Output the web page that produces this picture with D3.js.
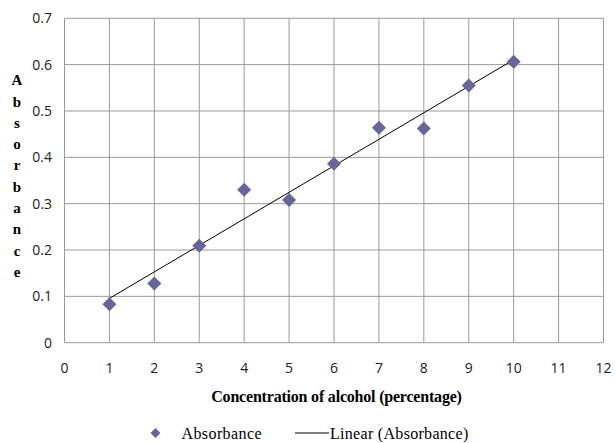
<!DOCTYPE html>
<html>
<head>
<meta charset="utf-8">
<script src="https://cdn.jsdelivr.net/npm/d3@7"></script>
<style>
body { margin: 0; background: #fff; }
</style>
</head>
<body>
<div id="chart"></div>
<script>
// data
var concentration = [1, 2, 3, 4, 5, 6, 7, 8, 9, 10];
var absorbance = [0.083, 0.128, 0.209, 0.330, 0.308, 0.386, 0.464, 0.462, 0.555, 0.606];
var xTicks = [0, 1, 2, 3, 4, 5, 6, 7, 8, 9, 10, 11, 12];
var yTicks = [0, 0.1, 0.2, 0.3, 0.4, 0.5, 0.6, 0.7];
var yTitle = "Absorbance";
var xTitle = "Concentration of alcohol (percentage)";

var width = 615, height = 443;
var margin = {left: 64.5, right: 11.5, top: 18.3, bottom: 100.3};
var w = width - margin.left - margin.right;
var h = height - margin.top - margin.bottom;

var svg = d3.select("#chart").append("svg")
	.attr("width", width)
	.attr("height", height);

var xScale = d3.scaleLinear().domain([0, 12]).range([margin.left, margin.left + w]);
var yScale = d3.scaleLinear().domain([0, 0.7]).range([margin.top + h, margin.top]);

var gridColor = "#9a9a9a";

// gridlines
svg.append("g").selectAll("line.hgrid")
	.data(yTicks)
	.enter().append("line")
	.attr("x1", xScale(0)).attr("x2", xScale(12))
	.attr("y1", function(d){ return yScale(d); })
	.attr("y2", function(d){ return yScale(d); })
	.attr("stroke", gridColor).attr("stroke-width", 1);

svg.append("g").selectAll("line.vgrid")
	.data(xTicks)
	.enter().append("line")
	.attr("y1", yScale(0)).attr("y2", yScale(0.7))
	.attr("x1", function(d){ return xScale(d); })
	.attr("x2", function(d){ return xScale(d); })
	.attr("stroke", gridColor).attr("stroke-width", 1);

// tick labels
svg.append("g").selectAll("text")
	.data(yTicks)
	.enter().append("text")
	.attr("x", 52)
	.attr("y", function(d){ return yScale(d); })
	.attr("dy", "0.35em")
	.attr("text-anchor", "end")
	.style("font-family", "'Open Sans', sans-serif")
	.style("font-size", "14px")
	.attr("fill", "#222")
	.text(function(d){ return d === 0 ? "0" : d3.format(".1f")(d); });

svg.append("g").selectAll("text")
	.data(xTicks)
	.enter().append("text")
	.attr("x", function(d){ return xScale(d); })
	.attr("y", 368)
	.attr("dy", "0.35em")
	.attr("text-anchor", "middle")
	.style("font-family", "'Open Sans', sans-serif")
	.style("font-size", "14px")
	.attr("fill", "#222")
	.text(function(d){ return d; });

// trend line (least squares)
var mx = d3.mean(concentration), my = d3.mean(absorbance);
var sxy = d3.sum(concentration, function(x, i){ return (x - mx) * (absorbance[i] - my); });
var sxx = d3.sum(concentration, function(x){ return (x - mx) * (x - mx); });
var slope = sxy / sxx, intercept = my - slope * mx;
var x0 = d3.min(concentration), x1 = d3.max(concentration);

svg.append("line")
	.attr("x1", xScale(x0)).attr("y1", yScale(intercept + slope * x0))
	.attr("x2", xScale(x1)).attr("y2", yScale(intercept + slope * x1))
	.attr("stroke", "#000").attr("stroke-width", 1);

// points
var diamond = d3.symbol().type(d3.symbolSquare).size(98);
svg.append("g").selectAll("path")
	.data(concentration)
	.enter().append("path")
	.attr("d", diamond)
	.attr("transform", function(d, i){
		return "translate(" + xScale(d) + "," + yScale(absorbance[i]) + ") rotate(45)";
	})
	.attr("fill", "#666699");

// y axis title, stacked letters
svg.append("g").selectAll("text")
	.data(yTitle.split(""))
	.enter().append("text")
	.attr("x", 17)
	.attr("y", function(d, i){ return 80 + i * 21.3; })
	.attr("dy", "0.35em")
	.attr("text-anchor", "middle")
	.style("font-family", "'Liberation Serif', serif")
	.style("font-weight", "bold")
	.style("font-size", "15px")
	.text(function(d){ return d; });

svg.append("text")
	.attr("x", 336.5)
	.attr("y", 396)
	.attr("dy", "0.35em")
	.attr("text-anchor", "middle")
	.style("font-family", "'Liberation Serif', serif")
	.style("font-weight", "bold")
	.style("font-size", "16px")
	.style("letter-spacing", "-0.2px")
	.text(xTitle);

// legend
var legend = svg.append("g");
legend.append("path")
	.attr("d", d3.symbol().type(d3.symbolSquare).size(50))
	.attr("transform", "translate(155.5,433) rotate(45)")
	.attr("fill", "#666699");
legend.append("text")
	.attr("x", 181.5).attr("y", 433).attr("dy", "0.35em")
	.style("font-family", "'Liberation Serif', serif")
	.style("font-size", "16px")
	.style("letter-spacing", "0.4px")
	.text("Absorbance");
legend.append("line")
	.attr("x1", 295).attr("x2", 329).attr("y1", 433).attr("y2", 433)
	.attr("stroke", "#000").attr("stroke-width", 1);
legend.append("text")
	.attr("x", 330).attr("y", 433).attr("dy", "0.35em")
	.style("font-family", "'Liberation Serif', serif")
	.style("font-size", "16px")
	.style("letter-spacing", "0.3px")
	.text("Linear (Absorbance)");
</script>
</body>
</html>
